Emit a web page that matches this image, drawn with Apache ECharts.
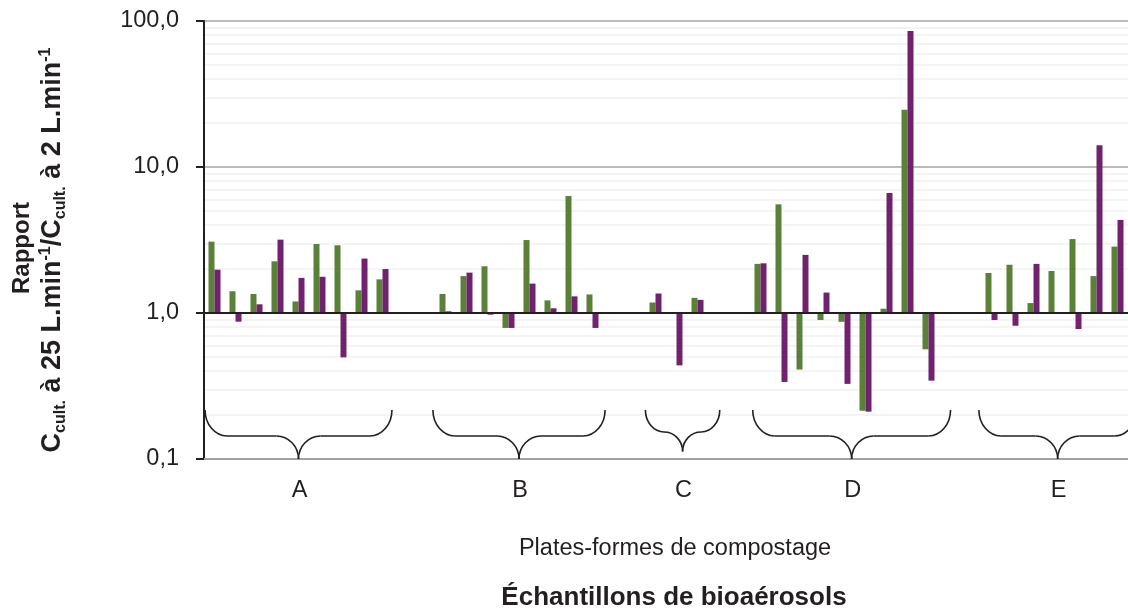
<!DOCTYPE html>
<html>
<head>
<meta charset="utf-8">
<script src="https://cdn.jsdelivr.net/npm/echarts@6/dist/echarts.min.js"></script>
<style>
  html, body { margin: 0; padding: 0; background: #ffffff; }
  #chart { width: 1128px; height: 614px; }
</style>
</head>
<body>
<div id="chart"></div>
<script>
// Sampling slots along the x axis (empty slots separate the platforms)
const slots = [
  'A1','A2','A3','A4','A5','A6','A7','A8','A9', 'sepAB1','sepAB2',
  'B1','B2','B3','B4','B5','B6','B7','B8', 'sepBC1','sepBC2',
  'C1','C2','C3', 'sepCD1','sepCD2',
  'D1','D2','D3','D4','D5','D6','D7','D8','D9', 'sepDE1','sepDE2',
  'E1','E2','E3','E4','E5','E6','E7'
];

// Ratio C(25 L/min) / C(2 L/min), first organism group (green)
const ratioGreen = [
  3.08, 1.41, 1.35, 2.26, 1.20, 2.97, 2.91, 1.43, 1.70, null, null,
  1.35, 1.79, 2.09, 0.79, 3.16, 1.22, 6.33, 1.34, null, null,
  1.18, null, 1.27, null, null,
  2.17, 5.55, 0.41, 0.895, 0.87, 0.214, 1.07, 24.7, 0.564, null, null,
  1.88, 2.14, 1.17, 1.94, 3.21, 1.79, 2.85
];

// Ratio C(25 L/min) / C(2 L/min), second organism group (purple)
const ratioPurple = [
  1.98, 0.872, 1.147, 3.18, 1.74, 1.77, 0.497, 2.36, 2.00, null, null,
  1.027, 1.89, 0.974, 0.79, 1.59, 1.077, 1.30, 0.79, null, null,
  1.36, 0.438, 1.23, null, null,
  2.19, 0.337, 2.50, 1.38, 0.327, 0.211, 6.64, 85.4, 0.344, null, null,
  0.895, 0.818, 2.17, null, 0.777, 14.1, 4.34
];

// Composting platforms and the slot span covered by each brace
const platforms = ['A', 'B', 'C', 'D', 'E'];
const platformSpans = [[0.05, 8.95], [10.9, 19.1], [21.02, 24.56], [26.13, 35.55], [36.9, 44.4]];

const FONT = "'Liberation Sans', Arial, sans-serif";
const INK = '#231f20';

// light gridlines at 2..9 of every decade
const minorGrid = [];
[0.1, 1, 10].forEach(function (d) {
  for (let k = 2; k <= 9; k++) minorGrid.push({ yAxis: +(d * k).toPrecision(3) });
});

const option = {
  animation: false,
  backgroundColor: '#ffffff',
  grid: { left: 204, right: 0, top: 21, bottom: 155, containLabel: false },
  xAxis: {
    type: 'category',
    z: 1,
    data: slots,
    boundaryGap: true,
    axisLine: { show: true, onZero: false, lineStyle: { color: '#a0a0a0', width: 2 } },
    axisTick: { show: false },
    axisLabel: { show: false },
    splitLine: { show: false }
  },
  yAxis: {
    type: 'log',
    z: 1,
    logBase: 10,
    min: 0.1,
    max: 100,
    axisLine: { show: true, lineStyle: { color: INK, width: 2 } },
    axisTick: { show: true, inside: false, length: 8, lineStyle: { color: INK, width: 2 } },
    axisLabel: {
      margin: 25,
      color: INK,
      fontSize: 23.5,
      fontFamily: FONT,
      padding: [4, 0, 0, 0],
      formatter: function (v) { return Number(v).toFixed(1).replace('.', ','); }
    },
    splitLine: { show: true, lineStyle: { color: '#a6a6a6', width: 1.6 } }
  },
  series: [
    {
      type: 'line',
      data: [],
      silent: true,
      markLine: {
        z: 0,
        silent: true,
        symbol: ['none', 'none'],
        label: { show: false },
        lineStyle: { color: '#f0f0f0', width: 1.6, type: 'solid' },
        data: minorGrid
      }
    },
    {
      name: 'Vert',
      type: 'bar',
      data: ratioGreen,
      barWidth: 6,
      barGap: '0%',
      itemStyle: { color: '#5b8139' }
    },
    {
      name: 'Violet',
      type: 'bar',
      data: ratioPurple,
      barWidth: 6,
      barGap: '0%',
      itemStyle: { color: '#70226e' },
      markLine: {
        silent: true,
        symbol: ['none', 'none'],
        label: { show: false },
        lineStyle: { color: INK, width: 2, type: 'solid' },
        data: [{ yAxis: 1 }]
      }
    }
  ]
};

const chart = echarts.init(document.getElementById('chart'));
chart.setOption(option);

// Braces, platform letters and titles, positioned from the axes
const c0 = chart.convertToPixel({ xAxisIndex: 0 }, 0);
const c1 = chart.convertToPixel({ xAxisIndex: 0 }, 1);
const band = c1 - c0;
const slotX = function (u) { return c0 + (u - 0.5) * band; };
const yBottom = chart.convertToPixel({ yAxisIndex: 0 }, 0.1);

const elements = [];
const braceStyle = { stroke: INK, lineWidth: 1.6, fill: null };

platformSpans.forEach(function (span, i) {
  const x0 = slotX(span[0]);
  const x1 = slotX(span[1]);
  const tip = (x0 + x1) / 2;
  const r = Math.min(22, (x1 - x0) / 4);
  const topY = yBottom - 49;
  const midY = topY + r * 1.18;
  const tipY = midY + r * 1.05;
  const h1 = midY - topY;
  const h2 = tipY - midY;
  elements.push(
    { type: 'bezierCurve', silent: true, z: 10, style: braceStyle,
      shape: { x1: x0, y1: topY, cpx1: x0, cpy1: topY + 0.55 * h1, cpx2: x0 + 0.45 * r, cpy2: midY, x2: x0 + r, y2: midY } },
    { type: 'line', silent: true, z: 10, style: braceStyle,
      shape: { x1: x0 + r, y1: midY, x2: tip - r, y2: midY } },
    { type: 'bezierCurve', silent: true, z: 10, style: braceStyle,
      shape: { x1: tip - r, y1: midY, cpx1: tip - 0.45 * r, cpy1: midY, cpx2: tip, cpy2: tipY - 0.55 * h2, x2: tip, y2: tipY } },
    { type: 'bezierCurve', silent: true, z: 10, style: braceStyle,
      shape: { x1: tip, y1: tipY, cpx1: tip, cpy1: tipY - 0.55 * h2, cpx2: tip + 0.45 * r, cpy2: midY, x2: tip + r, y2: midY } },
    { type: 'line', silent: true, z: 10, style: braceStyle,
      shape: { x1: tip + r, y1: midY, x2: x1 - r, y2: midY } },
    { type: 'bezierCurve', silent: true, z: 10, style: braceStyle,
      shape: { x1: x1 - r, y1: midY, cpx1: x1 - 0.45 * r, cpy1: midY, cpx2: x1, cpy2: topY + 0.55 * h1, x2: x1, y2: topY } },
    { type: 'text', silent: true, z: 10, x: tip + 1, y: yBottom + 32,
      style: { text: platforms[i], fill: INK, fontSize: 23.5, fontFamily: FONT,
               align: 'center', verticalAlign: 'middle', textAlign: 'center', textVerticalAlign: 'middle' } }
  );
});

elements.push(
  { type: 'text', silent: true, z: 10, x: 675, y: 549,
    style: { text: 'Plates-formes de compostage', fill: INK, fontSize: 23.5, fontFamily: FONT,
             align: 'center', verticalAlign: 'middle', textAlign: 'center', textVerticalAlign: 'middle' } },
  { type: 'text', silent: true, z: 10, x: 674, y: 598,
    style: { text: 'Échantillons de bioaérosols', fill: INK, fontSize: 26, fontWeight: 'bold', fontFamily: FONT,
             align: 'center', verticalAlign: 'middle', textAlign: 'center', textVerticalAlign: 'middle' } },
  { type: 'text', silent: true, z: 10, x: 22, y: 248, rotation: Math.PI / 2,
    style: { text: 'Rapport', fill: INK, fontSize: 24, fontWeight: 'bold', fontFamily: FONT,
             align: 'center', verticalAlign: 'middle', textAlign: 'center', textVerticalAlign: 'middle' } },
  { type: 'text', silent: true, z: 10, x: 53, y: 250, rotation: Math.PI / 2,
    style: {
      text: '{m|C}{s|cult.}{m| à 25 L.min}{p|-1}{m|/C}{s|cult.}{m| à 2 L.min}{p|-1}',
      fill: INK, fontFamily: FONT, fontWeight: 'bold', fontSize: 27,
      align: 'center', verticalAlign: 'middle', textAlign: 'center', textVerticalAlign: 'middle',
      rich: {
        m: { fontSize: 27, fontWeight: 'bold', fontFamily: FONT, fill: INK, color: INK, lineHeight: 31 },
        s: { fontSize: 16, fontWeight: 'bold', fontFamily: FONT, fill: INK, color: INK, lineHeight: 16, verticalAlign: 'bottom' },
        p: { fontSize: 16, fontWeight: 'bold', fontFamily: FONT, fill: INK, color: INK, lineHeight: 16, verticalAlign: 'top' }
      }
    } }
);

chart.setOption({ graphic: { elements: elements } });
</script>
</body>
</html>
